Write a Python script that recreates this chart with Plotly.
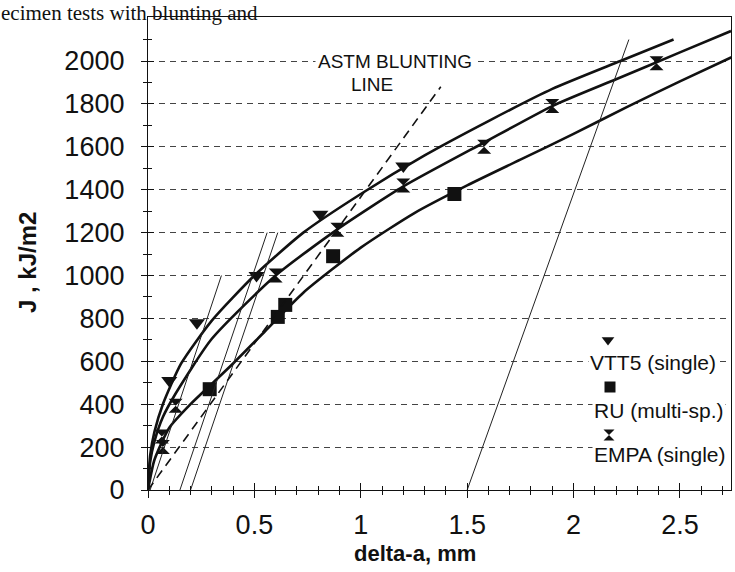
import plotly.graph_objects as go

# ---------------- data ----------------
X_TICKS = [0, 0.5, 1, 1.5, 2, 2.5]
X_TICK_LABELS = ["0", "0.5", "1", "1.5", "2", "2.5"]
X_MINOR = [0.1, 0.2, 0.3, 0.4, 0.6, 0.7, 0.8, 0.9, 1.1, 1.2, 1.3, 1.4, 1.6, 1.7,
           1.8, 1.9, 2.1, 2.2, 2.3, 2.4, 2.6, 2.7]
Y_TICKS = [0, 200, 400, 600, 800, 1000, 1200, 1400, 1600, 1800, 2000]
Y_TICK_LABELS = ["0", "200", "400", "600", "800", "1000", "1200", "1400", "1600", "1800", "2000"]
Y_MINOR = [100, 300, 500, 700, 900, 1100, 1300, 1500, 1700, 1900, 2100]

# measured points
VTT5_DA = [0.10, 0.23, 0.51, 0.81, 1.20]
VTT5_J = [510, 780, 1000, 1285, 1510]
RU_DA = [0.29, 0.61, 0.645, 0.87, 1.44]
RU_J = [470, 807, 863, 1090, 1380]
EMPA_DA = [0.065, 0.07, 0.13, 0.60, 0.89, 1.20, 1.58, 1.90, 2.39]
EMPA_J = [250, 200, 393, 1000, 1213, 1420, 1600, 1790, 1990]

# fitted curves
VTT5_FIT_DA = [0, 0.01, 0.03, 0.07, 0.156, 0.3, 0.5, 0.73, 1.0, 1.3, 1.6, 1.9, 2.22, 2.47]
VTT5_FIT_J = [0, 160, 270, 400, 590, 790, 1000, 1200, 1380, 1560, 1720, 1870, 2000, 2100]
EMPA_FIT_DA = [0, 0.01, 0.03, 0.07, 0.13, 0.3, 0.6, 0.89, 1.2, 1.58, 1.9, 2.2, 2.5, 2.74]
EMPA_FIT_J = [0, 130, 225, 340, 450, 705, 1000, 1215, 1415, 1620, 1790, 1915, 2040, 2140]
RU_FIT_DA = [0, 0.03, 0.1, 0.2, 0.3, 0.4, 0.55, 0.73, 1.0, 1.25, 1.5, 1.75, 2.0, 2.25, 2.5, 2.77]
RU_FIT_J = [0, 140, 290, 400, 495, 590, 740, 920, 1130, 1290, 1420, 1540, 1660, 1785, 1905, 2030]

# ASTM blunting line and thin offset / exclusion lines
BLUNT_DA = [0, 1.376]
BLUNT_J = [0, 1880]
THIN_LINES = [
    ([0.01, 0.345], [0, 1000]),
    ([0.15, 0.56], [0, 1200]),
    ([0.20, 0.61], [0, 1200]),
    ([1.50, 2.26], [0, 2100]),
]

LEGEND_NAMES = ["VTT5 (single)", "RU (multi-sp.)", "EMPA (single)"]
LEGEND_SYMBOLS = ["triangle-down", "square", "hourglass"]

# ---------------- layout constants ----------------
W, H = 735, 572
ML, MR, MT, MB = 148, 4, 17, 82
PW, PH = W - ML - MR, H - MT - MB


def px(xp):
    return (xp - ML) / PW


def py(yp):
    return (H - MB - yp) / PH


SANS = "Liberation Sans, Arial, sans-serif"
BLACK = "#111"

fig = go.Figure()

# curves
for xs, ys in [(VTT5_FIT_DA, VTT5_FIT_J), (EMPA_FIT_DA, EMPA_FIT_J), (RU_FIT_DA, RU_FIT_J)]:
    fig.add_trace(go.Scatter(x=xs, y=ys, mode="lines", line=dict(color=BLACK, width=2.6, shape="spline", smoothing=0.6),
                             hoverinfo="skip", showlegend=False))

# thin lines
for xs, ys in THIN_LINES:
    fig.add_trace(go.Scatter(x=xs, y=ys, mode="lines", line=dict(color="#222", width=1),
                             xaxis="x2", yaxis="y2", hoverinfo="skip", showlegend=False))

# blunting line
fig.add_trace(go.Scatter(x=BLUNT_DA, y=BLUNT_J, mode="lines", line=dict(color=BLACK, width=1.6, dash="9px,6px"),
                         xaxis="x2", yaxis="y2", hoverinfo="skip", showlegend=False))

# markers
fig.add_trace(go.Scatter(x=VTT5_DA, y=VTT5_J, mode="markers", name=LEGEND_NAMES[0],
                         marker=dict(symbol="triangle-down", size=14, color=BLACK), showlegend=False))
fig.add_trace(go.Scatter(x=RU_DA, y=RU_J, mode="markers", name=LEGEND_NAMES[1],
                         marker=dict(symbol="square", size=14, color=BLACK), showlegend=False))
fig.add_trace(go.Scatter(x=EMPA_DA, y=EMPA_J, mode="markers", name=LEGEND_NAMES[2],
                         marker=dict(symbol="hourglass", size=14, color=BLACK), showlegend=False))

# custom legend (symbol above text)
leg_sym_pix = [(608, 340), (610, 387), (609, 435)]
leg_txt_pix = [(653, 362), (659, 410), (660, 454)]
fig.add_trace(go.Scatter(x=[px(p[0]) for p in leg_sym_pix], y=[py(p[1]) for p in leg_sym_pix],
                         mode="markers", xaxis="x3", yaxis="y3",
                         marker=dict(symbol=LEGEND_SYMBOLS, size=11, color=BLACK),
                         hoverinfo="skip", showlegend=False))

annotations = []
for name, (tx, ty) in zip(LEGEND_NAMES, leg_txt_pix):
    annotations.append(dict(text=name, x=px(tx), y=py(ty), xref="paper", yref="paper",
                            showarrow=False, xanchor="center", yanchor="middle",
                            bgcolor="white", font=dict(family=SANS, size=21, color=BLACK)))

annotations.append(dict(text="ASTM BLUNTING", x=px(395), y=py(62), xref="paper", yref="paper",
                        showarrow=False, xanchor="center", yanchor="middle", bgcolor="white",
                        borderpad=2, font=dict(family=SANS, size=19, color=BLACK)))
annotations.append(dict(text="LINE", x=px(372), y=py(85), xref="paper", yref="paper",
                        showarrow=False, xanchor="center", yanchor="middle",
                        font=dict(family=SANS, size=19, color=BLACK)))
annotations.append(dict(text="J , kJ/m2", x=px(27), y=py(263), xref="paper", yref="paper",
                        showarrow=False, textangle=-90, xanchor="center", yanchor="middle",
                        font=dict(family=SANS, size=24, color=BLACK, weight="bold")))
annotations.append(dict(text="delta-a, mm", x=px(415), y=py(553), xref="paper", yref="paper",
                        showarrow=False, xanchor="center", yanchor="middle", borderpad=0,
                        font=dict(family=SANS, size=22, color=BLACK, weight="bold")))
annotations.append(dict(text="ecimen tests with blunting and", x=px(0), y=py(0), xref="paper", yref="paper",
                        showarrow=False, xanchor="left", yanchor="top", borderpad=0,
                        font=dict(family="Liberation Serif, Times New Roman, serif", size=21, color=BLACK)))

axis_common = dict(range=[0, 2.74], tickvals=X_TICKS, zeroline=False, showgrid=False)
yaxis_common = dict(range=[0, (H - MB - MT) / 0.2145], tickvals=Y_TICKS, zeroline=False)

fig.update_layout(
    width=W, height=H,
    margin=dict(l=ML, r=MR, t=MT, b=MB),
    paper_bgcolor="white", plot_bgcolor="white",
    showlegend=False,
    annotations=annotations,
    xaxis=dict(**axis_common, ticktext=X_TICK_LABELS, showline=True, linecolor=BLACK, linewidth=1.3,
               mirror=True, ticks="outside", ticklen=7, tickwidth=1, tickcolor=BLACK,
               ticklabelstandoff=3,
               tickfont=dict(family=SANS, size=27, color=BLACK),
               minor=dict(tickvals=X_MINOR, ticks="outside", ticklen=4, tickcolor=BLACK, tickwidth=1)),
    xaxis2=dict(**axis_common, overlaying="x", anchor="y2", side="bottom", showline=False,
                ticks="inside", ticklen=7, tickwidth=1, tickcolor=BLACK, showticklabels=False,
                minor=dict(tickvals=X_MINOR, ticks="inside", ticklen=4, tickcolor=BLACK, tickwidth=1)),
    yaxis=dict(**yaxis_common, ticktext=Y_TICK_LABELS, showline=True, linecolor=BLACK, linewidth=1.3,
               mirror=True, ticks="outside", ticklen=6, tickwidth=1, tickcolor=BLACK,
               ticklabelstandoff=11,
               showgrid=True, gridcolor="#444", gridwidth=1, griddash="6px,5px",
               tickfont=dict(family=SANS, size=27, color=BLACK),
               minor=dict(tickvals=Y_MINOR, ticks="outside", ticklen=4, tickcolor=BLACK, tickwidth=1)),
    yaxis2=dict(**yaxis_common, overlaying="y", anchor="x2", side="left", showline=False, showgrid=False,
                ticks="inside", ticklen=6, tickwidth=1, tickcolor=BLACK, showticklabels=False,
                minor=dict(tickvals=Y_MINOR, ticks="inside", ticklen=4, tickcolor=BLACK, tickwidth=1)),
    xaxis3=dict(range=[0, 1], overlaying="x", anchor="y3", visible=False),
    yaxis3=dict(range=[0, 1], overlaying="y", anchor="x3", visible=False),
)

fig.write_html("out.html")
